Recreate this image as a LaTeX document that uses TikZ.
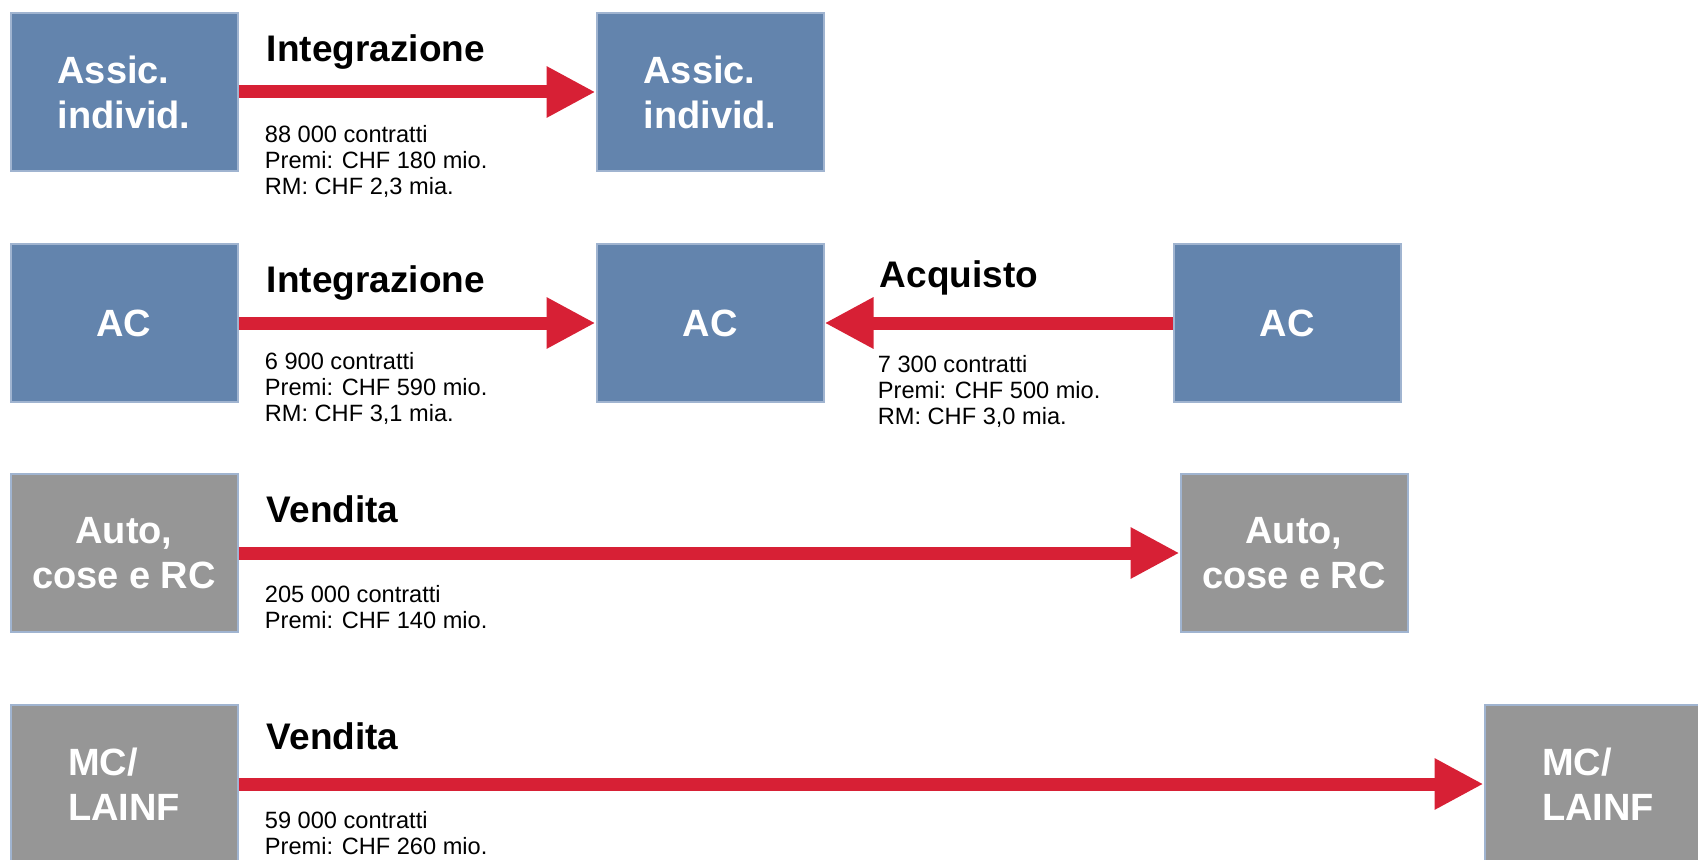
\documentclass[tikz,border=0pt]{standalone}
\usepackage{fontspec}
\setmainfont{Liberation Sans}
\usetikzlibrary{arrows.meta,positioning}

\definecolor{boxBlue}{RGB}{99,132,173}
\definecolor{boxGray}{RGB}{150,150,150}
\definecolor{edgeBlue}{RGB}{160,180,208}
\definecolor{flowRed}{RGB}{215,32,53}

\begin{document}
\begin{tikzpicture}[x=0.5pt, y=0.5pt,
	box/.style={draw=edgeBlue, line width=1pt, minimum width=113.5pt, minimum height=79pt,
		inner sep=0pt, text=white, align=left, font=\fontsize{19}{22.5}\selectfont\bfseries},
	bluebox/.style={box, fill=boxBlue},
	graybox/.style={box, fill=boxGray},
	flow/.style={draw=flowRed, line width=6.5pt, -{Triangle[length=24.5pt, width=24pt]}},
	flowtitle/.style={anchor=base west, inner sep=0pt, font=\fontsize{18.5}{22}\selectfont\bfseries},
	flowinfo/.style={anchor=north west, inner sep=0pt, align=left, font=\fontsize{11.8}{13}\selectfont}]

	\def\colA{124};
	\def\colB{710};
	\def\colC{1287};
	\def\colD{1294};
	\def\colE{1598};

	\def\rowA{767};
	\def\rowB{536};
	\def\rowC{306};
	\def\rowD{75};

	\useasboundingbox (0,0) rectangle (1698,859);

	% Boxes
	\node[bluebox] (b1a) at (\colA,\rowA) {Assic.\\individ.};
	\node[bluebox] (b1b) at (\colB,\rowA) {Assic.\\individ.};

	\node[bluebox] (b2a) at (\colA,\rowB) {AC};
	\node[bluebox] (b2b) at (\colB,\rowB) {AC};
	\node[bluebox] (b2c) at (\colC,\rowB) {AC};

	\node[graybox, align=center] (b3a) at (\colA,\rowC) {Auto,\\cose e RC};
	\node[graybox, align=center] (b3b) at (\colD,\rowC) {Auto,\\cose e RC};

	\node[graybox] (b4a) at (\colA,\rowD) {MC/\\LAINF};
	\node[graybox] (b4b) at (\colE,\rowD) {MC/\\LAINF};

	% Flows
	\foreach \from/\to in {b1a/b1b, b2a/b2b, b2c/b2b, b3a/b3b, b4a/b4b}
		\draw[flow] (\from) -- (\to);

	% Flow titles
	\node[flowtitle] (t1) at ([shift={(14pt,15pt)}]b1a.east) {Integrazione};
	\node[flowtitle] (t2) at ([shift={(14pt,15.5pt)}]b2a.east) {Integrazione};
	\node[flowtitle] (t2c) at ([shift={(27.5pt,18pt)}]b2b.east) {Acquisto};
	\node[flowtitle] (t3) at ([shift={(14pt,15.5pt)}]b3a.east) {Vendita};
	\node[flowtitle] (t4) at ([shift={(14pt,17.5pt)}]b4a.east) {Vendita};

	% Flow figures
	\node[flowinfo] (i1) at ([shift={(13pt,-16.5pt)}]b1a.east)
		{88 000 contratti\\Premi: CHF 180 mio.\\RM: CHF 2,3 mia.};
	\node[flowinfo] (i2) at ([shift={(13pt,-14.5pt)}]b2a.east)
		{6 900 contratti\\Premi: CHF 590 mio.\\RM: CHF 3,1 mia.};
	\node[flowinfo] (i2c) at ([shift={(26.5pt,-16pt)}]b2b.east)
		{7 300 contratti\\Premi: CHF 500 mio.\\RM: CHF 3,0 mia.};
	\node[flowinfo] (i3) at ([shift={(13pt,-16pt)}]b3a.east)
		{205 000 contratti\\Premi: CHF 140 mio.};
	\node[flowinfo] (i4) at ([shift={(13pt,-13.5pt)}]b4a.east)
		{59 000 contratti\\Premi: CHF 260 mio.};

\end{tikzpicture}
\end{document}
